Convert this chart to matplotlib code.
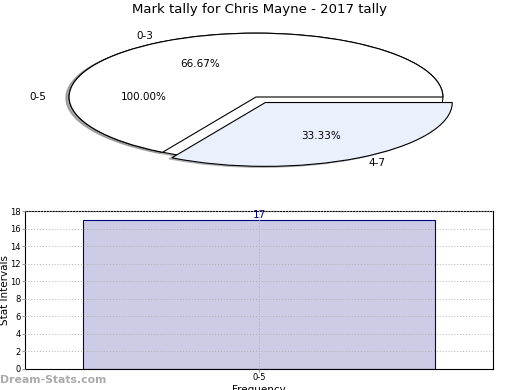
import matplotlib
matplotlib.use("Agg")
import matplotlib.pyplot as plt

title = "Mark tally for Chris Mayne - 2017 tally"

# pie data
all_labels = ["0-5"]
all_values = [17]
split_labels = ["0-3", "4-7"]
split_values = [2, 1]

# bar data
bar_labels = ["0-5"]
bar_values = [17]

fig = plt.figure(figsize=(5.2, 3.9), dpi=100)

# ---- pie (squashed) ----
ax1 = fig.add_axes([0.025, 0.5385, 0.9346, 0.4256])
shadow_style = {"ox": -0.012, "oy": -0.012, "shade": 0.45}
ax1.pie(all_values, labels=all_labels, colors=["white"], autopct="%.2f%%",
        shadow=shadow_style, startangle=0, counterclock=True,
        labeldistance=1.12,
        wedgeprops=dict(edgecolor="black", linewidth=0.8),
        textprops=dict(fontsize=7.5))
ax1.pie(split_values, labels=split_labels, colors=["white", "#eaf0fc"],
        explode=(0, 0.1), autopct="%.2f%%", shadow=shadow_style, startangle=0,
        wedgeprops=dict(edgecolor="black", linewidth=0.8),
        textprops=dict(fontsize=7.5))
ax1.set_aspect("auto")
ax1.set_xlim(-1.3, 1.3)
ax1.set_ylim(-1.3, 1.3)
ax1.axis("off")

fig.text(0.5, 1 - 10 / 390, title, ha="center", va="center", fontsize=9.5)

# ---- bar ----
ax2 = fig.add_axes([25 / 520, 21 / 390, 468 / 520, 158 / 390])
bars = ax2.bar(range(len(bar_values)), bar_values, width=0.75,
               color="#ccccE6", edgecolor="#000080", linewidth=0.8)
for b, v in zip(bars, bar_values):
    ax2.text(b.get_x() + b.get_width() / 2, v, str(v), ha="center",
             va="bottom", color="#000080", fontsize=7.5)
ax2.set_xlim(-0.5, 0.5)
ax2.set_ylim(0, 18)
ax2.set_yticks(range(0, 19, 2))
ax2.set_xticks(range(len(bar_labels)))
ax2.set_xticklabels(bar_labels)
ax2.tick_params(labelsize=6, length=2, color="#999999", pad=1)
ax2.grid(True, linestyle=(0, (1, 2)), color="#b0b0b0", linewidth=0.7)
ax2.set_axisbelow(False)
ax2.set_ylabel("Stat Intervals", fontsize=7.5)
ax2.yaxis.set_label_coords(-0.031, 0.5)
ax2.set_xlabel("Frequency", fontsize=7.5, labelpad=2)
for s in ax2.spines.values():
    s.set_linewidth(0.8)

fig.text(0.0, 1 - 380 / 390, "Dream-Stats.com", ha="left", va="center",
         fontsize=7.8, fontweight="bold", color="#aaaaaa")

fig.savefig("out.png", dpi=100)
